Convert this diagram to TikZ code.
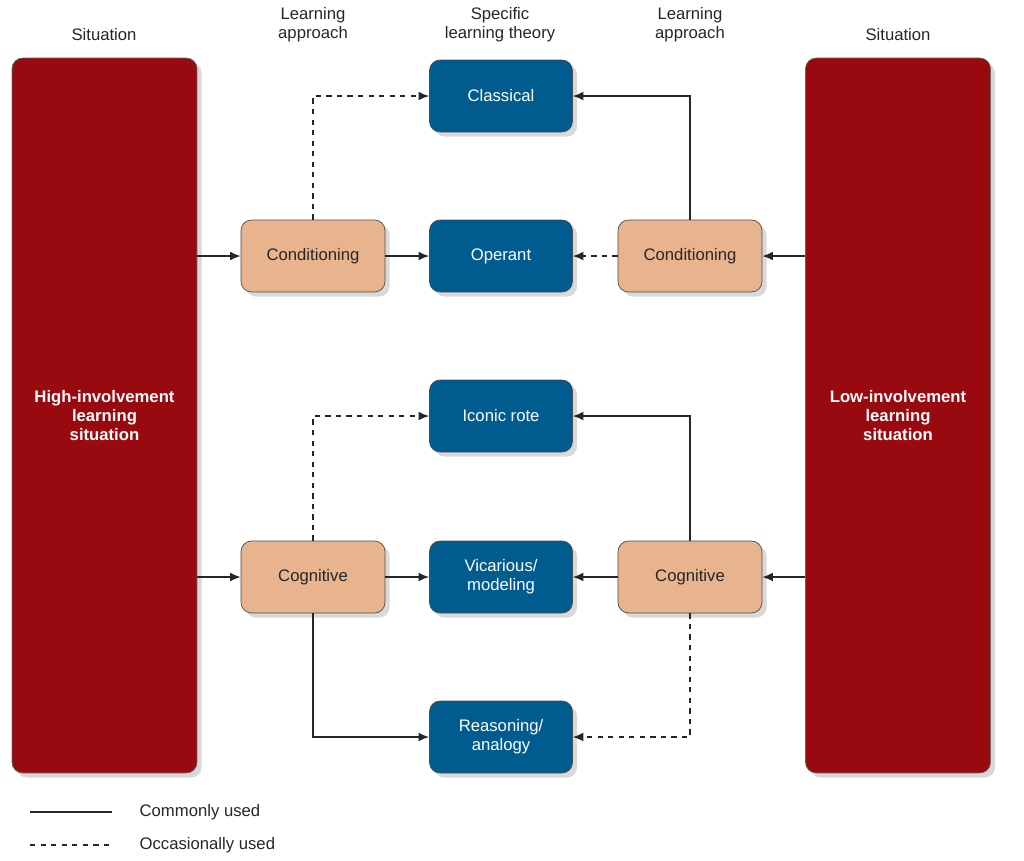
\documentclass[tikz,border=0pt]{standalone}
\usepackage{fontspec}
\setmainfont{Liberation Sans}
\usepackage{tikz}
\usetikzlibrary{arrows.meta, positioning, shadows}

\definecolor{sitred}{HTML}{990A10}
\definecolor{theoryblue}{HTML}{005C8F}
\definecolor{approachtan}{HTML}{E8B48E}

\tikzset{
    situation/.style={rectangle, rounded corners=6pt, fill=sitred, draw=black!60,
        minimum width=3.7cm, minimum height=14.3cm, text=white, font=\bfseries\fontsize{9.5}{11}\selectfont,
        align=center, drop shadow={opacity=0.3}},
    theory/.style={rectangle, rounded corners=6pt, fill=theoryblue, draw=black!70,
        minimum width=2.86cm, minimum height=1.44cm, text=white, align=center,
        font=\fontsize{9.5}{11}\selectfont, drop shadow={opacity=0.3}},
    approach/.style={rectangle, rounded corners=6pt, fill=approachtan, draw=black!70,
        minimum width=2.88cm, minimum height=1.44cm, text=black!85, align=center,
        font=\fontsize{9.5}{11}\selectfont, drop shadow={opacity=0.3}},
    header/.style={align=center, text=black!85, font=\fontsize{9.5}{11}\selectfont},
    common/.style={-{Latex[length=6pt,width=5pt]}, thick, black!85},
    occasional/.style={common, dashed}
}

\begin{document}
\begin{tikzpicture}[x=0.02cm, y=-0.02cm]
\useasboundingbox (0,0) rectangle (1024,860);

% situations
\node[situation] (highsit) at (104.5,415.5) {High-involvement\\learning\\situation};
\node[situation] (lowsit) at (898,415.5) {Low-involvement\\learning\\situation};

% headers
\node[header] (h1) at (104,35) {Situation};
\node[header] (h2) at (313,25) {Learning\\approach};
\node[header] (h3) at (500,25) {Specific\\learning theory};
\node[header] (h4) at (690,25) {Learning\\approach};
\node[header] (h5) at (898,35) {Situation};

% specific theories
\node[theory] (classical) at (501,96) {Classical};
\node[theory] (operant) at (501,256) {Operant};
\node[theory] (iconic) at (501,416) {Iconic rote};
\node[theory] (vicarious) at (501,577) {Vicarious/\\modeling};
\node[theory] (reasoning) at (501,737) {Reasoning/\\analogy};

% approaches
\node[approach] (condL) at (313,256) {Conditioning};
\node[approach] (condR) at (690,256) {Conditioning};
\node[approach] (cogL) at (313,577) {Cognitive};
\node[approach] (cogR) at (690,577) {Cognitive};

% situation to approach
\draw[common] (highsit.east |- condL) -- (condL);
\draw[common] (highsit.east |- cogL) -- (cogL);
\draw[common] (lowsit.west |- condR) -- (condR);
\draw[common] (lowsit.west |- cogR) -- (cogR);

% conditioning
\draw[common] (condL) -- (operant);
\draw[occasional] (condR) -- (operant);
\draw[occasional] (condL.north) |- (classical.west);
\draw[common] (condR.north) |- (classical.east);

% cognitive
\draw[common] (cogL) -- (vicarious);
\draw[common] (cogR) -- (vicarious);
\draw[occasional] (cogL.north) |- (iconic.west);
\draw[common] (cogR.north) |- (iconic.east);
\draw[common] (cogL.south) |- (reasoning.west);
\draw[occasional] (cogR.south) |- (reasoning.east);

% legend
\coordinate (solidA) at (30,812);
\coordinate (solidB) at (112,812);
\coordinate (dashA) at (30,845);
\coordinate (dashB) at (112,845);
\draw[thick, black!85] (solidA) -- (solidB) node[right=12pt, header] {Commonly used};
\draw[thick, black!85, dashed] (dashA) -- (dashB) node[right=12pt, header] {Occasionally used};

\end{tikzpicture}
\end{document}
